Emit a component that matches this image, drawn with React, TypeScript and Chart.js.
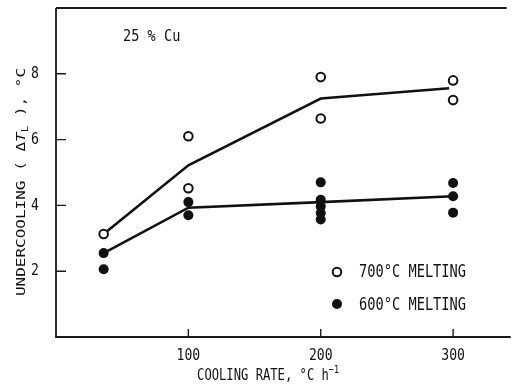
import React, { useEffect, useRef } from "react";
import { Chart, registerables } from "chart.js";

Chart.register(...registerables);

// 700 °C melting (open circles)
const rate700 = [36, 100, 100, 200, 200, 300, 300];
const under700 = [3.13, 6.1, 4.52, 7.9, 6.64, 7.8, 7.2];
// 600 °C melting (filled circles)
const rate600 = [36, 36, 100, 100, 200, 200, 200, 200, 200, 300, 300, 300];
const under600 = [2.55, 2.06, 4.1, 3.7, 4.7, 4.17, 3.97, 3.77, 3.57, 4.68, 4.28, 3.78];
// fitted curves
const fitRate700 = [36, 100, 200, 297];
const fit700 = [3.13, 5.22, 7.25, 7.56];
const fitRate600 = [36, 100, 200, 300];
const fit600 = [2.55, 3.93, 4.1, 4.28];
// axes
const xTicks = [100, 200, 300];
const xTickLabels = ["100", "200", "300"];
const yTicks = [2, 4, 6, 8];
const yTickLabels = ["2", "4", "6", "8"];
const legendLabels = ["700°C MELTING", "600°C MELTING"];
const annotation = "25 % Cu";

const FONT = '"DejaVu Sans Mono", "Liberation Mono", monospace';
const INK = "#111";

const pts = (xs: number[], ys: number[]) => xs.map((x, i) => ({ x, y: ys[i] }));

function drawText(
  ctx: CanvasRenderingContext2D,
  text: string,
  x: number,
  y: number,
  size: number,
  sx: number,
  align: CanvasTextAlign = "left"
) {
  ctx.save();
  ctx.translate(x, y);
  ctx.scale(sx, 1);
  ctx.font = `${size}px ${FONT}`;
  ctx.textAlign = align;
  ctx.textBaseline = "middle";
  ctx.fillStyle = INK;
  ctx.fillText(text, 0, 0);
  ctx.restore();
}

const decorPlugin = {
  id: "decor",
  beforeDatasetsDraw(chart: any) {
    const { ctx, chartArea, scales } = chart;
    const { left, top, right, bottom } = chartArea;
    ctx.save();
    ctx.strokeStyle = "#1a1a1a";
    ctx.lineWidth = 1.8;
    ctx.beginPath();
    ctx.moveTo(left, top);
    ctx.lineTo(left, bottom);
    ctx.lineTo(right + 2, bottom);
    ctx.moveTo(left, top);
    ctx.lineTo(right - 2, top);
    ctx.stroke();
    ctx.lineWidth = 1.4;
    ctx.beginPath();
    xTicks.forEach((v) => {
      const px = scales.x.getPixelForValue(v);
      ctx.moveTo(px, bottom);
      ctx.lineTo(px, bottom - 8);
    });
    yTicks.forEach((v) => {
      const py = scales.y.getPixelForValue(v);
      ctx.moveTo(left, py);
      ctx.lineTo(left + 10, py);
    });
    ctx.stroke();
    ctx.restore();
  },
  afterDraw(chart: any) {
    const { ctx, chartArea, scales } = chart;
    const { left, bottom } = chartArea;
    // tick labels
    xTicks.forEach((v, i) => {
      drawText(ctx, xTickLabels[i], scales.x.getPixelForValue(v), bottom + 19, 16, 0.82, "center");
    });
    yTicks.forEach((v, i) => {
      drawText(ctx, yTickLabels[i], left - 17, scales.y.getPixelForValue(v), 16, 0.82, "right");
    });
    // annotation
    drawText(ctx, annotation, 123, 37, 16, 0.85, "left");

    // x title
    ctx.save();
    ctx.translate(268, 376);
    ctx.scale(0.76, 1);
    ctx.textBaseline = "middle";
    ctx.fillStyle = INK;
    const main = "COOLING RATE, °C h";
    const sup = "−1";
    ctx.font = `16px ${FONT}`;
    const wMain = ctx.measureText(main).width;
    ctx.font = `11px ${FONT}`;
    const wSup = ctx.measureText(sup).width;
    const startX = -(wMain + wSup) / 2;
    ctx.font = `16px ${FONT}`;
    ctx.textAlign = "left";
    ctx.fillText(main, startX, 0);
    ctx.font = `11px ${FONT}`;
    ctx.fillText(sup, startX + wMain, -6);
    ctx.restore();

    // y title (rotated)
    ctx.save();
    ctx.translate(22, 182);
    ctx.rotate(-Math.PI / 2);
    ctx.scale(1, 0.78);
    ctx.textBaseline = "middle";
    ctx.textAlign = "left";
    ctx.fillStyle = INK;
    const parts: { t: string; f: string; dy: number }[] = [
      { t: "UNDERCOOLING ( Δ", f: `16px ${FONT}`, dy: 0 },
      { t: "T", f: `italic 16px ${FONT}`, dy: 0 },
      { t: "L", f: `11px ${FONT}`, dy: 5 },
      { t: " ), °C", f: `16px ${FONT}`, dy: 0 },
    ];
    let total = 0;
    parts.forEach((p) => {
      ctx.font = p.f;
      total += ctx.measureText(p.t).width;
    });
    let cx = -total / 2;
    parts.forEach((p) => {
      ctx.font = p.f;
      ctx.fillText(p.t, cx, p.dy);
      cx += ctx.measureText(p.t).width;
    });
    ctx.restore();

    // legend
    ctx.save();
    ctx.lineWidth = 2;
    ctx.strokeStyle = INK;
    ctx.fillStyle = "#fff";
    ctx.beginPath();
    ctx.arc(337, 272, 4.3, 0, Math.PI * 2);
    ctx.fill();
    ctx.stroke();
    ctx.fillStyle = INK;
    ctx.beginPath();
    ctx.arc(337, 304, 5, 0, Math.PI * 2);
    ctx.fill();
    ctx.restore();
    drawText(ctx, legendLabels[0], 359, 272, 18, 0.76, "left");
    drawText(ctx, legendLabels[1], 359, 305, 18, 0.76, "left");
  },
};

export default function App() {
  const ref = useRef<HTMLCanvasElement | null>(null);
  useEffect(() => {
    if (!ref.current) return;
    const chart = new Chart(ref.current, {
      type: "scatter",
      data: {
        datasets: [
          {
            label: "fit 700",
            data: pts(fitRate700, fit700),
            showLine: true,
            borderColor: INK,
            borderWidth: 2.6,
            pointRadius: 0,
            order: 3,
          },
          {
            label: "fit 600",
            data: pts(fitRate600, fit600),
            showLine: true,
            borderColor: INK,
            borderWidth: 2.6,
            pointRadius: 0,
            order: 3,
          },
          {
            label: legendLabels[0],
            data: pts(rate700, under700),
            pointRadius: 4.3,
            pointBorderWidth: 2,
            pointBorderColor: INK,
            pointBackgroundColor: "#fff",
            order: 1,
          },
          {
            label: legendLabels[1],
            data: pts(rate600, under600),
            pointRadius: 5,
            pointBorderWidth: 0,
            pointBackgroundColor: INK,
            pointBorderColor: INK,
            order: 1,
          },
        ],
      },
      options: {
        animation: false,
        responsive: false,
        devicePixelRatio: 1,
        layout: { padding: { left: 56, top: 8, right: 5, bottom: 49 } },
        plugins: { legend: { display: false }, tooltip: { enabled: false } },
        scales: {
          x: { type: "linear", min: 0, max: 342, display: false },
          y: { type: "linear", min: 0, max: 10, display: false },
        },
      },
      plugins: [decorPlugin],
    });
    return () => chart.destroy();
  }, []);
  return (
    <div style={{ position: "absolute", left: 0, top: 0, width: 515, height: 386, background: "#fff" }}>
      <canvas ref={ref} width={515} height={386} />
    </div>
  );
}
